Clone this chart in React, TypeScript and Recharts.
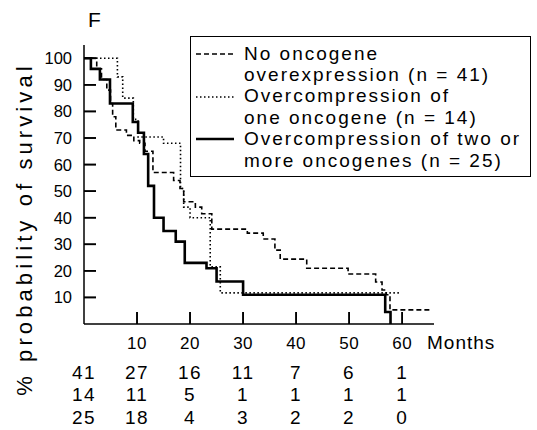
import { LineChart, Line, XAxis, YAxis, ReferenceLine } from "recharts";

const FONT = '"Liberation Sans", Arial, Helvetica, sans-serif';

// survival curves: month of each step and % surviving from that month on
const noneMonths = [0, 2.4, 3.3, 4.3, 5.0, 5.4, 6.0, 8.0, 9.4, 10.5, 11.5, 13.0, 16.9, 18.1, 18.8, 21.0, 22.2, 24.1, 30.8, 33.8, 36.0, 37.0, 42.0, 49.8, 55.0, 56.2, 57.0, 57.7, 65.3];
const noneSurvival = [100, 96, 92, 88, 83, 78, 73, 71, 69, 68, 65, 57, 54, 51, 46, 44, 41.5, 35.7, 34.2, 32, 27.8, 24.4, 21, 18.8, 15.8, 12.8, 11, 5.3, 5.3];

const oneMonths = [0, 6.3, 7.3, 9.3, 10.2, 15.0, 18.2, 18.8, 20.0, 23.8, 25.7, 59.6];
const oneSurvival = [100, 93, 85, 77, 70.4, 68, 51, 44, 40, 21.5, 11.7, 11.7];

const twoMonths = [0, 1.3, 3.0, 4.9, 9.2, 10.2, 11.3, 12.1, 13.2, 15.0, 17.3, 19.0, 23.1, 25.0, 30.0, 56.8, 57.8];
const twoSurvival = [100, 96, 92, 83, 76, 72, 64, 52, 40, 35, 31, 23, 21, 16, 11, 4.5, 0];

// patients at risk every 10 months
const riskMonths = [0, 10, 20, 30, 40, 50, 60];
const riskNone = [41, 27, 16, 11, 7, 6, 1];
const riskOne = [14, 11, 5, 1, 1, 1, 1];
const riskTwo = [25, 18, 4, 3, 2, 2, 0];

const xTicks = [10, 20, 30, 40, 50, 60];
const yTicks = [10, 20, 30, 40, 50, 60, 70, 80, 90, 100];

const legendText = [
  ["No oncogene", "overexpression (n = 41)"],
  ["Overcompression of", "one oncogene (n = 14)"],
  ["Overcompression of two or", "more oncogenes (n = 25)"],
];

const X_MAX = 66;
const Y_MAX = 105;

const toSteps = (months: number[], survival: number[]) =>
  months.map((m, i) => ({ month: m, survival: survival[i] }));

const series = [
  { name: "none", data: toSteps(noneMonths, noneSurvival), dash: "5 3", width: 1.6 },
  { name: "one", data: toSteps(oneMonths, oneSurvival), dash: "1.5 2.5", width: 1.6 },
  { name: "two", data: toSteps(twoMonths, twoSurvival), dash: undefined, width: 2.6 },
];

const riskRows = [riskNone, riskOne, riskTwo];

const axisStroke = { stroke: "#000", strokeWidth: 1.5 };

// inward tick marks, ~12px long, expressed in axis units
const xTickLen = (12 / 279) * Y_MAX;
const yTickLen = (12 / 350) * X_MAX;

// month label, inward tick and the three at-risk counts under each month
function MonthTick(props: any) {
  const { x, y, payload } = props;
  const v = payload.value as number;
  const idx = riskMonths.indexOf(v);
  return (
    <g>
      {v > 0 && <path d={`M${x},${y}V${y - 12}`} stroke="#000" strokeWidth={1.6} fill="none" />}
      <text x={x} y={y + 19} textAnchor="middle" dominantBaseline="central" fontSize={17} fill="#000" style={{ letterSpacing: 0.5 }}>
        {v > 0 ? v : ""}
      </text>
      {riskRows.map((row, r) => (
        <text
          key={r}
          x={x}
          y={y + 48 + r * 22.5}
          textAnchor="middle"
          dominantBaseline="central"
          fontSize={19}
          fill="#000"
          style={{ letterSpacing: 1.5 }}
        >
          {row[idx]}
        </text>
      ))}
    </g>
  );
}

function PercentTick(props: any) {
  const { x, y, payload } = props;
  return (
    <g>
      <path d={`M${x + 12},${y}H${x + 24}`} stroke="#000" strokeWidth={1.6} fill="none" />
      <text x={x} y={y} textAnchor="end" dominantBaseline="central" fontSize={16.5} fill="#000">
        {payload.value}
      </text>
    </g>
  );
}

function LegendBox() {
  return (
    <div
      style={{
        position: "absolute",
        left: 190,
        top: 36,
        width: 341,
        height: 141,
        boxSizing: "border-box",
        border: "1.5px solid #000",
        background: "#fff",
        fontSize: 19,
        letterSpacing: 2,
        lineHeight: "21.4px",
        paddingTop: 5.5,
        paddingLeft: 53,
      }}
    >
      {series.map((s, i) => (
        <svg
          key={s.name}
          width={40}
          height={6}
          style={{ position: "absolute", left: 4, top: 14 + i * 42.7 }}
        >
          <line
            x1={1}
            x2={39}
            y1={3}
            y2={3}
            stroke="#000"
            strokeWidth={s.dash ? 1.4 : 2.4}
            strokeDasharray={s.dash}
          />
        </svg>
      ))}
      {legendText.flat().map((t, i) => (
        <div key={i} style={{ whiteSpace: "nowrap" }}>
          {t}
        </div>
      ))}
    </div>
  );
}

export default function App() {
  return (
    <div
      style={{
        position: "absolute",
        left: 0,
        top: 0,
        width: 537,
        height: 430,
        background: "#fff",
        fontFamily: FONT,
        color: "#000",
      }}
    >
      <LineChart width={537} height={430} margin={{ top: 45, right: 103, bottom: 12, left: 24 }}>
        <YAxis
          yAxisId="y"
          type="number"
          domain={[0, Y_MAX]}
          ticks={yTicks}
          width={60}
          axisLine={axisStroke}
          tickSize={0}
          tickMargin={12}
          tick={<PercentTick />}
        />
        <XAxis
          xAxisId="x"
          dataKey="month"
          type="number"
          domain={[0, X_MAX]}
          ticks={riskMonths}
          height={94}
          interval={0}
          axisLine={axisStroke}
          tickSize={0}
          tickMargin={0}
          tick={<MonthTick />}
        />
        {xTicks.map((m) => (
          <ReferenceLine
            key={`xt${m}`}
            xAxisId="x"
            yAxisId="y"
            segment={[{ x: m, y: 0 }, { x: m, y: xTickLen }]}
            stroke="#000"
            strokeWidth={1.6}
          />
        ))}
        {yTicks.map((v) => (
          <ReferenceLine
            key={`yt${v}`}
            xAxisId="x"
            yAxisId="y"
            segment={[{ x: 0, y: v }, { x: yTickLen, y: v }]}
            stroke="#000"
            strokeWidth={1.6}
          />
        ))}
        {series.map((s) => (
          <Line
            key={s.name}
            data={s.data}
            dataKey="survival"
            xAxisId="x"
            yAxisId="y"
            type="stepAfter"
            stroke="#000"
            strokeWidth={s.width}
            strokeDasharray={s.dash}
            dot={false}
            isAnimationActive={false}
          />
        ))}
      </LineChart>
      <LegendBox />
      <div style={{ position: "absolute", left: 88, top: 8, fontSize: 21 }}>F</div>
      <div style={{ position: "absolute", left: 427, top: 332, fontSize: 19, lineHeight: "22px", letterSpacing: 1 }}>
        Months
      </div>
      <div
        style={{
          position: "absolute",
          left: 25 - 200,
          top: 229 - 13,
          width: 400,
          textAlign: "center",
          fontSize: 22,
          lineHeight: "26px",
          letterSpacing: 4.1,
          whiteSpace: "nowrap",
          transform: "rotate(-90deg)",
        }}
      >
        % probability of survival
      </div>
    </div>
  );
}
